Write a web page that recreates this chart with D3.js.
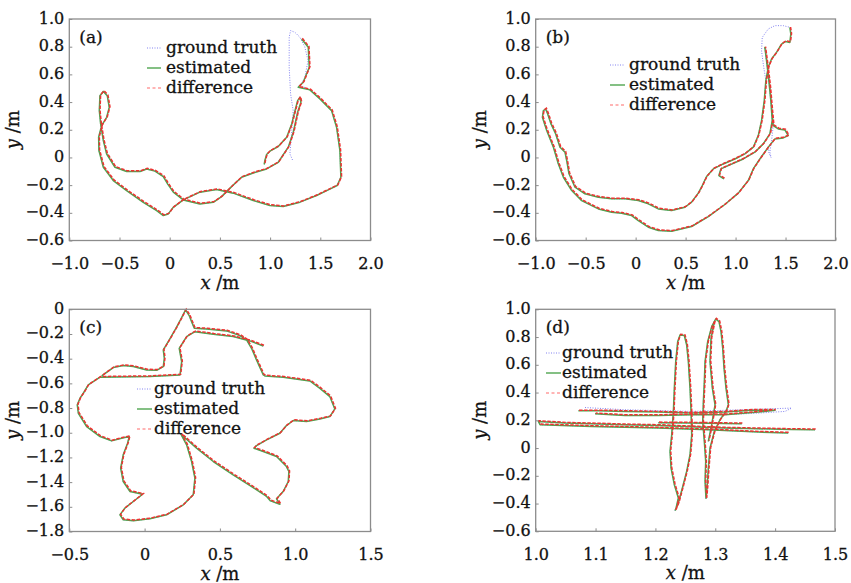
<!DOCTYPE html>
<html>
<head>
<meta charset="utf-8">
<script src="https://cdn.jsdelivr.net/npm/d3@7"></script>
<style>
  body { margin: 0; background: #fff; }
  svg { display: block; }
  text { font-family: "DejaVu Serif", serif; fill: #111; stroke: #111; stroke-width: 0.3px; }
</style>
</head>
<body>
<div id="chart"></div>
<script>
// 1. Data

const xTicksA = [-1, -0.5, 0, 0.5, 1, 1.5, 2];
const yTicksA = [-0.6, -0.4, -0.2, 0, 0.2, 0.4, 0.6, 0.8, 1];
const xTicksC = [-0.5, 0, 0.5, 1, 1.5];
const yTicksC = [-1.8, -1.6, -1.4, -1.2, -1, -0.8, -0.6, -0.4, -0.2, 0];
const xTicksD = [1, 1.1, 1.2, 1.3, 1.4, 1.5];
const yTicksD = [-0.6, -0.4, -0.2, 0, 0.2, 0.4, 0.6, 0.8, 1];

const legendNames = ["ground truth", "estimated", "difference"];

// panel (a)
const headA = [[1.314,0.856],[1.380,0.796],[1.390,0.651],[1.330,0.543],[1.280,0.507]];
const loopA = [[1.396,0.488],[1.496,0.423],[1.612,0.338],[1.662,0.218],[1.695,0.050],[1.705,-0.143],
  [1.668,-0.203],[1.579,-0.234],[1.463,-0.275],[1.297,-0.323],[1.131,-0.355],[0.998,-0.347],
  [0.832,-0.311],[0.633,-0.258],[0.467,-0.232],[0.301,-0.251],[0.135,-0.307],[0.036,-0.360],
  [-0.014,-0.408],[-0.064,-0.420],[-0.130,-0.384],[-0.263,-0.324],[-0.429,-0.240],[-0.562,-0.167],
  [-0.661,-0.071],[-0.705,0.050],[-0.708,0.146],[-0.678,0.230],[-0.628,0.290],[-0.602,0.362],
  [-0.622,0.446],[-0.661,0.477],[-0.695,0.446],[-0.701,0.338],[-0.688,0.242],[-0.661,0.121],
  [-0.628,0.025],[-0.545,-0.071],[-0.429,-0.102],[-0.296,-0.102],[-0.230,-0.083],[-0.147,-0.099],
  [-0.064,-0.138],[-0.021,-0.191],[0.036,-0.251],[0.135,-0.307],[0.301,-0.336],[0.434,-0.324],
  [0.517,-0.283],[0.616,-0.211],[0.716,-0.143],[0.832,-0.112],[0.965,-0.083],[1.081,-0.035],
  [1.181,0.074],[1.231,0.182],[1.274,0.326]];
const tailA = [[1.307,0.398],[1.297,0.434],[1.274,0.410],[1.248,0.338],[1.215,0.242],[1.165,0.146],
  [1.081,0.079],[0.998,0.045],[0.965,0.021],[0.948,-0.022],[0.941,-0.051]];
const gtHeadA = [[1.223,-0.018],[1.197,0.026],[1.214,0.170],[1.230,0.338],[1.204,0.459],[1.190,0.651],
  [1.190,0.868],[1.204,0.916],[1.247,0.904],[1.297,0.868],[1.345,0.800],[1.378,0.700],[1.345,0.575],
  [1.300,0.520]];

// panel (b)
const hookB = [[0.883,-0.155],[0.833,-0.131],[0.853,-0.083],[0.943,-0.054],[1.077,-0.011],[1.193,0.038],
  [1.277,0.098],[1.343,0.170],[1.367,0.266],[1.353,0.410],[1.333,0.555],[1.310,0.699],[1.293,0.795],
  [1.320,0.651],[1.343,0.507],[1.360,0.362],[1.377,0.230]];
const rightB = [[1.427,0.206],[1.493,0.199],[1.527,0.158],[1.477,0.141],[1.393,0.134]];
const lowerB = [[1.327,0.074],[1.243,-0.011],[1.177,-0.083],[1.127,-0.167],[1.027,-0.258],[0.893,-0.340],
  [0.727,-0.427],[0.560,-0.499],[0.360,-0.533],[0.227,-0.528],[0.127,-0.504],[0.027,-0.456],
  [-0.040,-0.420],[-0.140,-0.403],[-0.240,-0.396],[-0.373,-0.372],[-0.540,-0.312],[-0.640,-0.239],
  [-0.723,-0.143],[-0.773,-0.047],[-0.823,0.074],[-0.890,0.194],[-0.933,0.290],[-0.923,0.338],
  [-0.900,0.350],[-0.880,0.314],[-0.847,0.242],[-0.800,0.170],[-0.757,0.074],[-0.707,0.038],
  [-0.690,-0.022],[-0.667,-0.118],[-0.607,-0.215],[-0.507,-0.263],[-0.373,-0.287],[-0.240,-0.299],
  [-0.107,-0.299],[0.027,-0.311],[0.127,-0.335],[0.227,-0.372],[0.360,-0.384],[0.493,-0.360],
  [0.560,-0.323],[0.627,-0.258],[0.667,-0.203],[0.710,-0.138],[0.777,-0.083],[0.877,-0.047],
  [0.993,-0.011],[1.093,0.026],[1.177,0.074],[1.227,0.158],[1.260,0.266],[1.287,0.410],[1.303,0.555]];
const topB = [[1.327,0.651],[1.360,0.711],[1.410,0.759],[1.460,0.819],[1.500,0.838],[1.543,0.831],
  [1.553,0.891],[1.543,0.939]];
const gtRightB = [[1.360,0.120],[1.343,0.040],[1.355,0.000],[1.335,0.030]];
const gtTopB = [[1.280,0.660],[1.260,0.770],[1.267,0.867],[1.327,0.928],[1.393,0.952],[1.477,0.952],
  [1.543,0.940]];

// panel (c)
const pathC = [[0.788,-0.297],[0.699,-0.256],[0.588,-0.221],[0.456,-0.202],[0.334,-0.181],[0.279,-0.221],
  [0.230,-0.316],[0.246,-0.424],[0.235,-0.532],[0.035,-0.545],[-0.296,-0.550],[-0.374,-0.613],
  [-0.407,-0.680],[-0.429,-0.720],[-0.447,-0.774],[-0.440,-0.842],[-0.385,-0.950],[-0.296,-1.031],
  [-0.219,-1.066],[-0.153,-1.044],[-0.102,-1.031],[-0.113,-1.085],[-0.142,-1.179],[-0.159,-1.287],
  [-0.142,-1.395],[-0.097,-1.476],[-0.013,-1.498],[-0.075,-1.557],[-0.131,-1.611],[-0.164,-1.665],
  [-0.142,-1.705],[-0.075,-1.713],[0.035,-1.697],[0.146,-1.665],[0.257,-1.584],[0.323,-1.503],
  [0.334,-1.368],[0.312,-1.233],[0.279,-1.098],[0.241,-1.012],[0.345,-1.125],[0.456,-1.233],
  [0.588,-1.341],[0.721,-1.444],[0.810,-1.516],[0.836,-1.552],[0.898,-1.579],[0.876,-1.535],
  [0.920,-1.476],[0.954,-1.395],[0.958,-1.314],[0.942,-1.274],[0.876,-1.193],[0.788,-1.152],
  [0.726,-1.125],[0.743,-1.104],[0.810,-1.058],[0.898,-1.004],[0.942,-0.942],[0.987,-0.901],
  [1.075,-0.909],[1.164,-0.888],[1.230,-0.869],[1.263,-0.807],[1.230,-0.707],[1.164,-0.640],
  [1.097,-0.580],[0.920,-0.550],[0.799,-0.540],[0.788,-0.532],[0.743,-0.410],[0.710,-0.316],
  [0.677,-0.248],[0.633,-0.213],[0.544,-0.175],[0.412,-0.159],[0.330,-0.154],[0.312,-0.100],
  [0.296,-0.051],[0.272,-0.005],[0.246,-0.067],[0.208,-0.154],[0.157,-0.262],[0.124,-0.329],
  [0.131,-0.397],[0.124,-0.464],[0.080,-0.494],[0.013,-0.491],[-0.075,-0.464],[-0.142,-0.456],
  [-0.208,-0.472],[-0.285,-0.540]];

// panel (d)
const upperD = [[1.0713,0.268],[1.1047,0.268],[1.1492,0.264],[1.2049,0.259],[1.2606,0.252],[1.3163,0.259],
  [1.3608,0.273],[1.3998,0.273],[1.3719,0.259],[1.3163,0.240],[1.2606,0.240],[1.2049,0.235],
  [1.1492,0.235],[1.0991,0.247]];
const gtUpperD = [[1.0824,0.292],[1.1492,0.276],[1.2606,0.264],[1.3720,0.280],[1.4276,0.288],
  [1.4165,0.264],[1.3720,0.252],[1.3163,0.240],[1.2606,0.240],[1.2049,0.235],[1.1492,0.235],[1.0991,0.247]];
const lowerD = [[1.4666,0.132],[1.4276,0.134],[1.3719,0.139],[1.3163,0.144],[1.2606,0.153],[1.2049,0.163],
  [1.1492,0.168],[1.0935,0.175],[1.0490,0.180],[1.0045,0.192],[1.0072,0.168],[1.0935,0.156],
  [1.2049,0.144],[1.2884,0.132],[1.3719,0.115],[1.4220,0.108]];
const midD = [[1.2049,0.182],[1.2606,0.180],[1.3441,0.175]];
const spikeLeftD = [[1.2327,-0.451],[1.2383,-0.396],[1.2450,-0.288],[1.2522,-0.168],[1.2578,-0.048],
  [1.2606,0.096],[1.2595,0.264],[1.2578,0.432],[1.2550,0.623],[1.2522,0.743],[1.2483,0.811],
  [1.2411,0.815],[1.2372,0.767],[1.2339,0.623],[1.2316,0.432],[1.2300,0.264],[1.2272,0.096],
  [1.2244,-0.024],[1.2261,-0.144],[1.2316,-0.264],[1.2383,-0.360],[1.2339,-0.444]];
const spikeRightD = [[1.2845,-0.365],[1.2829,-0.240],[1.2840,-0.096],[1.2817,0.048],[1.2790,0.192],
  [1.2801,0.336],[1.2817,0.480],[1.2829,0.623],[1.2873,0.767],[1.2940,0.875],[1.3007,0.930],
  [1.3062,0.911],[1.3096,0.839],[1.3124,0.719],[1.3146,0.575],[1.3179,0.432],[1.3218,0.312],
  [1.3179,0.264],[1.3079,0.204],[1.2984,0.120],[1.2912,0.000],[1.2884,-0.144],[1.2862,-0.288],
  [1.2845,-0.365]];
const innerD = [[1.2984,0.911],[1.2929,0.791],[1.2912,0.623],[1.2951,0.432],[1.2996,0.312],
  [1.2940,0.168],[1.2884,0.048]];

// series per panel, each a list of segments
const estA = [[...headA, ...loopA, ...tailA]];
const gtA = [[...gtHeadA, ...loopA]];
const estB = [[...hookB, ...rightB, ...lowerB, ...topB]];
const gtB = [[...hookB, ...gtRightB, ...lowerB, ...gtTopB]];
const estC = [pathC];
const gtC = [pathC];
const estD = [upperD, lowerD, midD, spikeLeftD, spikeRightD, innerD];
const gtD = [gtUpperD, lowerD, midD, spikeLeftD, spikeRightD, innerD];

// 2. Layout

const panels = [
  { tag: "(a)", left: 69.3, right: 370.5, top: 19, bottom: 240.5,
    xDomain: [-1, 2], yDomain: [-0.6, 1], xTicks: xTicksA, yTicks: yTicksA,
    est: estA, gt: gtA, legend: { x1: 147, x2: 161, tx: 166, y: 53 } },
  { tag: "(b)", left: 535.7, right: 835.5, top: 19, bottom: 240.5,
    xDomain: [-1, 2], yDomain: [-0.6, 1], xTicks: xTicksA, yTicks: yTicksA,
    est: estB, gt: gtB, legend: { x1: 610, x2: 625, tx: 629, y: 70 } },
  { tag: "(c)", left: 69.3, right: 370.5, top: 309.3, bottom: 531.5,
    xDomain: [-0.5, 1.5], yDomain: [-1.8, 0], xTicks: xTicksC, yTicks: yTicksC,
    est: estC, gt: gtC, legend: { x1: 137, x2: 152, tx: 154, y: 394 } },
  { tag: "(d)", left: 535.7, right: 835, top: 309.3, bottom: 531.3,
    xDomain: [1, 1.5], yDomain: [-0.6, 1], xTicks: xTicksD, yTicks: yTicksD,
    est: estD, gt: gtD, legend: { x1: 546, x2: 561, tx: 562, y: 358 } },
];

const colors = { gt: "#8383f0", est: "#4fa54f", diff: "#ee3232", frame: "#8c8c8c" };
const tickFormat = d => Math.abs(d) < 1e-9 ? "0" : d3.format(".1f")(d);

// 3. Draw canvas

const svg = d3.select("#chart")
  .append("svg")
    .attr("width", 851)
    .attr("height", 583);

panels.forEach(drawPanel);

function drawPanel(p) {
  const x = d3.scaleLinear().domain(p.xDomain).range([p.left, p.right]);
  const y = d3.scaleLinear().domain(p.yDomain).range([p.bottom, p.top]);
  const line = d3.line().x(d => x(d[0])).y(d => y(d[1]));

  const g = svg.append("g");

  // trajectories: ground truth, estimated, difference
  g.append("g").selectAll("path")
    .data(p.gt)
    .join("path")
      .attr("d", line)
      .attr("fill", "none")
      .attr("stroke", colors.gt)
      .attr("stroke-width", 1)
      .attr("stroke-dasharray", "1,1.5");

  g.append("g").selectAll("path")
    .data(p.est)
    .join("path")
      .attr("d", line)
      .attr("fill", "none")
      .attr("stroke", colors.est)
      .attr("stroke-width", 1.5)
      .attr("stroke-linejoin", "round");

  // difference drawn just beside the estimate, as in the figure
  g.append("g")
    .attr("transform", "translate(0.7,-0.7)")
    .selectAll("path")
    .data(p.est)
    .join("path")
      .attr("d", line)
      .attr("fill", "none")
      .attr("stroke", colors.diff)
      .attr("stroke-width", 1.5)
      .attr("stroke-dasharray", "3.5,1.5");

  // frame
  g.append("rect")
    .attr("x", p.left)
    .attr("y", p.top)
    .attr("width", p.right - p.left)
    .attr("height", p.bottom - p.top)
    .attr("fill", "none")
    .attr("stroke", colors.frame)
    .attr("stroke-width", 1.3);

  // axes (inward ticks)
  const xAxis = g.append("g")
    .attr("transform", `translate(0,${p.bottom})`)
    .call(d3.axisBottom(x).tickValues(p.xTicks).tickFormat(tickFormat)
      .tickSize(-3).tickPadding(17));
  const yAxis = g.append("g")
    .attr("transform", `translate(${p.left},0)`)
    .call(d3.axisLeft(y).tickValues(p.yTicks).tickFormat(tickFormat)
      .tickSize(-3).tickPadding(5));

  [xAxis, yAxis].forEach(a => {
    a.select(".domain").remove();
    a.selectAll(".tick line").attr("stroke", colors.frame);
    a.selectAll(".tick text")
      .attr("fill", "#111")
      .style("font-family", "'DejaVu Serif', serif")
      .style("font-size", "16px");
  });
  yAxis.selectAll(".tick text").attr("dy", "0.25em");

  // axis titles
  const xt = g.append("text")
    .attr("x", (p.left + p.right) / 2)
    .attr("y", p.bottom + 48)
    .attr("text-anchor", "middle")
    .style("font-size", "18px");
  xt.append("tspan").attr("font-style", "italic").text("x");
  xt.append("tspan").text(" /m");

  const cy = (p.top + p.bottom) / 2;
  const yt = g.append("text")
    .attr("transform", `translate(${p.left - 50},${cy}) rotate(-90)`)
    .attr("text-anchor", "middle")
    .style("font-size", "18px");
  yt.append("tspan").attr("font-style", "italic").text("y");
  yt.append("tspan").text(" /m");

  // panel tag
  g.append("text")
    .attr("x", p.left + 10)
    .attr("y", p.top + 23.5)
    .style("font-size", "17px")
    .text(p.tag);

  // legend
  const styles = [
    { stroke: colors.gt, dash: "1,1.5", w: 1 },
    { stroke: colors.est, dash: null, w: 1.4 },
    { stroke: "#ff6b6b", dash: "3,2.5", w: 1.2 },
  ];
  const lg = g.append("g");
  legendNames.forEach((name, i) => {
    const by = p.legend.y + i * 20;
    lg.append("line")
      .attr("x1", p.legend.x1).attr("x2", p.legend.x2)
      .attr("y1", by - 5).attr("y2", by - 5)
      .attr("stroke", styles[i].stroke)
      .attr("stroke-width", styles[i].w)
      .attr("stroke-dasharray", styles[i].dash);
    lg.append("text")
      .attr("x", p.legend.tx)
      .attr("y", by)
      .style("font-size", "17px")
      .text(name);
  });
}
</script>
</body>
</html>
